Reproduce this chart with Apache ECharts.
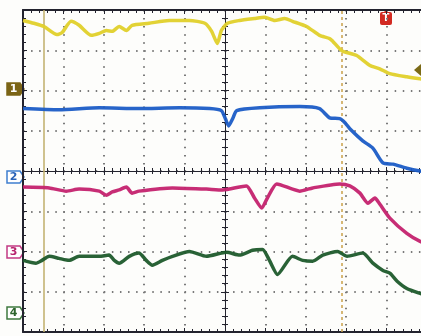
<!DOCTYPE html>
<html>
<head>
<meta charset="utf-8">
<script src="https://cdn.jsdelivr.net/npm/echarts@6/dist/echarts.min.js"></script>
<style>
  html, body { margin: 0; padding: 0; background: #fdfdfb; }
  #chart-panel { width: 421px; height: 336px; }
</style>
</head>
<body>
<div id="chart-panel"></div>
<script>
// time in divisions (-5..5), amplitude in divisions (-4..4)
const ch1 = [
  [-5.0, 3.74], [-4.73, 3.67], [-4.48, 3.59], [-4.16, 3.39], [-4.03, 3.44], [-3.81, 3.72],
  [-3.61, 3.62], [-3.31, 3.37], [-3.11, 3.42], [-2.94, 3.49], [-2.79, 3.47], [-2.62, 3.59],
  [-2.44, 3.49], [-2.30, 3.62], [-1.88, 3.67], [-1.38, 3.74], [-0.88, 3.74], [-0.50, 3.67],
  [-0.33, 3.47], [-0.19, 3.17], [-0.09, 3.49], [0.06, 3.67], [0.36, 3.74], [0.73, 3.79],
  [0.98, 3.82], [1.23, 3.74], [1.48, 3.79], [1.67, 3.72], [2.02, 3.59], [2.34, 3.37],
  [2.59, 3.29], [2.67, 3.22], [2.89, 2.99], [3.26, 2.87], [3.59, 2.62], [3.83, 2.54],
  [4.08, 2.42], [4.50, 2.34], [4.83, 2.29], [5.0, 2.27]
]
const ch2 = [
  [-5.0, 1.55], [-4.11, 1.52], [-3.11, 1.57], [-2.13, 1.55], [-1.13, 1.57], [-0.38, 1.55],
  [-0.09, 1.50], [0.01, 1.30], [0.09, 1.12], [0.19, 1.30], [0.29, 1.50], [0.86, 1.57],
  [1.85, 1.60], [2.34, 1.55], [2.59, 1.32], [2.84, 1.30], [2.97, 1.20], [3.09, 1.05],
  [3.41, 0.75], [3.66, 0.57], [3.91, 0.20], [4.16, 0.17], [4.50, 0.07], [4.83, 0.0], [5.0, -0.02]
]
const ch3 = [
  [-5.0, -0.40], [-4.35, -0.42], [-3.93, -0.50], [-3.61, -0.45], [-3.11, -0.50], [-2.94, -0.60],
  [-2.79, -0.52], [-2.62, -0.47], [-2.44, -0.40], [-2.30, -0.55], [-2.13, -0.50], [-1.30, -0.42],
  [-0.46, -0.45], [-0.06, -0.47], [0.53, -0.37], [0.73, -0.67], [0.91, -0.92], [1.05, -0.67],
  [1.28, -0.32], [1.85, -0.50], [2.17, -0.42], [2.84, -0.32], [3.09, -0.37], [3.34, -0.55],
  [3.54, -0.80], [3.71, -0.67], [3.83, -0.82], [4.08, -1.17], [4.50, -1.55], [4.83, -1.75], [5.0, -1.80]
]
const ch4 = [
  [-5.0, -2.22], [-4.68, -2.29], [-4.53, -2.22], [-4.35, -2.12], [-4.11, -2.17], [-3.86, -2.22],
  [-3.61, -2.12], [-3.11, -2.12], [-2.87, -2.09], [-2.74, -2.22], [-2.62, -2.29], [-2.37, -2.12],
  [-2.13, -2.04], [-1.95, -2.22], [-1.80, -2.34], [-1.55, -2.22], [-1.30, -2.12], [-0.88, -2.00],
  [-0.46, -2.12], [0.04, -2.02], [0.36, -2.09], [0.68, -1.97], [0.93, -1.95], [1.10, -2.22],
  [1.30, -2.57], [1.67, -2.12], [1.92, -2.22], [2.17, -2.24], [2.42, -2.09], [2.79, -2.00],
  [3.02, -2.12], [3.41, -2.04], [3.66, -2.29], [3.91, -2.47], [4.08, -2.54], [4.26, -2.74],
  [4.50, -2.92], [4.83, -3.04], [5.0, -3.09]
]
const cursorX = -4.48
const triggerX = 2.9
const chColors = ["#e0d02a", "#1b5cc6", "#c4226e", "#1d5a2b"]

const chart = echarts.init(document.getElementById("chart-panel"), null, { renderer: "canvas" })

// grid is wider than the window, the right edge of the screen is cut off
const gridBox = { left: 23, top: 10, width: 404, height: 322, outerBoundsMode: "none", containLabel: false }
const frameColor = "#23232e"
const dotX = { color: "#7a7a7a", width: 2, type: [1.5, 6.55] }
const dotY = { color: "#7a7a7a", width: 2, type: [1.5, 6.58] }
// labels must exist (invisible) or the ticks are not drawn
const hiddenLabel = { show: true, color: "rgba(0,0,0,0)", fontSize: 1, formatter: () => " " }

const baseX = (extra) => Object.assign({
  type: "value", min: -5, max: 5, interval: 1,
  axisLabel: hiddenLabel, splitLine: { show: false }
}, extra)
const baseY = (extra) => Object.assign({
  type: "value", min: -4, max: 4, interval: 1,
  axisLabel: hiddenLabel, splitLine: { show: false }
}, extra)
const tickSet = (inside) => ({
  axisTick: { show: true, inside: inside, length: 4, lineStyle: { color: frameColor, width: 1 } },
  minorTick: { show: true, splitNumber: 5, length: 3, lineStyle: { color: frameColor, width: 1 } }
})
const lineSet = (onZero) => ({
  axisLine: { show: true, onZero: onZero, lineStyle: { color: frameColor, width: onZero ? 1 : 2 } }
})

const makeSeries = (name, data, color, extra) => Object.assign({
  name, type: "line", data, xAxisIndex: 0, yAxisIndex: 0,
  smooth: 0.2, showSymbol: false, symbol: "none",
  lineStyle: { color, width: 3.5, opacity: 0.95 }, z: 5
}, extra)

const option = {
  backgroundColor: "#fdfdfb",
  animation: false,
  grid: [
    Object.assign({}, gridBox),
    Object.assign({}, gridBox),
    Object.assign({}, gridBox)
  ],
  xAxis: [
    baseX(Object.assign({ gridIndex: 0, position: "bottom", splitLine: { show: true, lineStyle: dotX } }, lineSet(false), tickSet(true))),
    baseX(Object.assign({ gridIndex: 0, position: "top" }, lineSet(false), tickSet(true))),
    baseX(Object.assign({ gridIndex: 1, position: "bottom" }, lineSet(true), tickSet(true))),
    baseX(Object.assign({ gridIndex: 2, position: "bottom" }, lineSet(true), tickSet(false)))
  ],
  yAxis: [
    baseY(Object.assign({ gridIndex: 0, position: "left", splitLine: { show: true, lineStyle: dotY } }, lineSet(false), tickSet(true))),
    baseY(Object.assign({ gridIndex: 0, position: "right" }, lineSet(false), tickSet(true))),
    baseY(Object.assign({ gridIndex: 1, position: "left" }, lineSet(true), tickSet(true))),
    baseY(Object.assign({ gridIndex: 2, position: "left" }, lineSet(true), tickSet(false)))
  ],
  series: [
    makeSeries("1", ch1, chColors[0], {
      markLine: {
        silent: true, symbol: "none", label: { show: false },
        data: [
          { xAxis: cursorX, lineStyle: { color: "#bfae6a", width: 1.5, type: "solid" } },
          { xAxis: triggerX, lineStyle: { color: "#c9a04a", width: 1.5, type: [3, 3] } }
        ]
      }
    }),
    makeSeries("2", ch2, chColors[1]),
    makeSeries("3", ch3, chColors[2]),
    makeSeries("4", ch4, chColors[3])
  ],
  graphic: []
}

// channel markers on the left edge
const marker = (label, cy, fill, stroke, textColor) => ({
  type: "group", z: 20,
  children: [
    {
      type: "polygon",
      shape: { points: [[7, cy - 6], [20, cy - 6], [24, cy], [20, cy + 6], [7, cy + 6]] },
      style: { fill: fill, stroke: stroke, lineWidth: 1.5 }
    },
    {
      type: "text", x: 13.5, y: cy,
      style: { text: label, fill: textColor, font: "bold 11px 'DejaVu Sans', sans-serif", align: "center", verticalAlign: "middle" }
    }
  ]
})
option.graphic.push(marker("1", 89, "#7b6416", "#7b6416", "#ffffff"))
option.graphic.push(marker("2", 177, "#ffffff", "#3f7fcf", "#2a62b8"))
option.graphic.push(marker("3", 252, "#ffffff", "#c23a84", "#b8246e"))
option.graphic.push(marker("4", 313, "#ffffff", "#3f7a3f", "#2d642d"))

// trigger marker
option.graphic.push({
  type: "group", z: 20,
  children: [
    { type: "polygon", shape: { points: [[382, 9], [390, 9], [386, 13]] }, style: { fill: "#d22a22" } },
    { type: "rect", shape: { x: 380, y: 12, width: 12, height: 13, r: 2 }, style: { fill: "#d22a22" } },
    {
      type: "text", x: 386, y: 18.5,
      style: { text: "T", fill: "#ffffff", font: "bold 10px 'DejaVu Sans', sans-serif", align: "center", verticalAlign: "middle" }
    }
  ]
})
// ch1 level marker on the right edge
option.graphic.push({
  type: "polygon", z: 20,
  shape: { points: [[414, 70], [421, 64], [421, 76]] },
  style: { fill: "#7b6a16" }
})

chart.setOption(option)
</script>
</body>
</html>
